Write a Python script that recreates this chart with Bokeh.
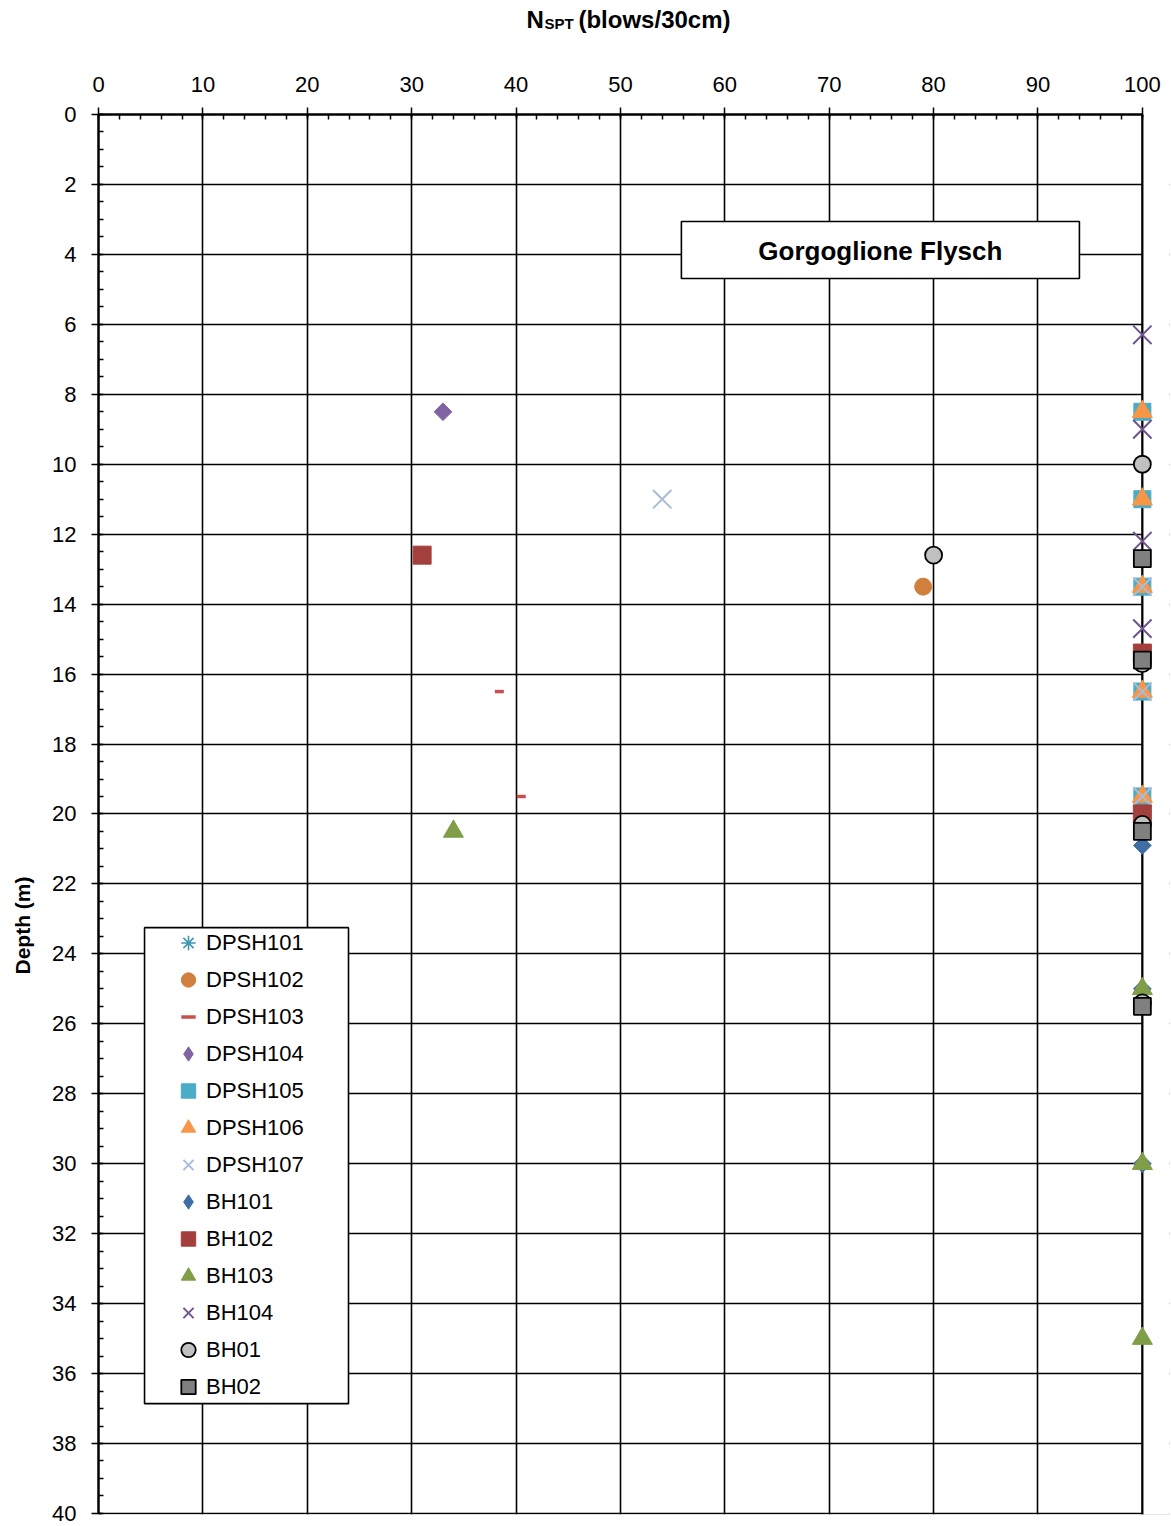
import math
import numpy as np
from bokeh.plotting import figure
from bokeh.layouts import column, row
from bokeh.models import (Range1d, SingleIntervalTicker, Legend, LegendItem, Label,
                          BoxAnnotation, Span)
from bokeh.embed import file_html
from bokeh.resources import INLINE

# ---------------- data (N_SPT, depth m) ----------------
dpsh101_n = [float("nan")]          # no visible points for DPSH101
dpsh101_d = [float("nan")]
dpsh102_n = [79]
dpsh102_d = [13.5]
dpsh103_n = [38.4, 40.5]
dpsh103_d = [16.5, 19.5]
dpsh104_n = [33]
dpsh104_d = [8.5]
dpsh105_n = [100, 100, 100, 100, 100]
dpsh105_d = [8.5, 11.0, 13.5, 16.5, 19.5]
dpsh106_n = [100, 100, 100, 100, 100]
dpsh106_d = [8.5, 11.0, 13.5, 16.5, 19.5]
dpsh107_n = [54, 100, 100, 100]
dpsh107_d = [11.0, 13.5, 16.5, 19.5]
bh101_n = [100, 100, 100]
bh101_d = [20.9, 25.0, 30.0]
bh102_n = [31, 100, 100]
bh102_d = [12.6, 15.4, 20.0]
bh103_n = [34, 100, 100, 100]
bh103_d = [20.5, 25.0, 30.0, 35.0]
bh104_n = [100, 100, 100, 100]
bh104_d = [6.3, 9.0, 12.2, 14.7]
bh01_n = [100, 80, 100, 100, 100]
bh01_d = [10.0, 12.6, 15.7, 20.3, 25.4]
bh02_n = [100, 100, 100, 100]
bh02_d = [12.7, 15.6, 20.5, 25.5]

x_ticks = [0, 10, 20, 30, 40, 50, 60, 70, 80, 90, 100]
y_ticks = [0, 2, 4, 6, 8, 10, 12, 14, 16, 18, 20, 22, 24, 26, 28, 30, 32, 34, 36, 38, 40]

FONT = "Liberation Sans"
TITLE_H = 44
LEFT_W = 44
MAIN_H = 1526 - TITLE_H

# ---------------- title strip: N_SPT (blows/30cm) ----------------
tf = figure(width=1171, height=TITLE_H, output_backend="svg", toolbar_location=None,
            x_range=Range1d(0, 102.6), y_range=Range1d(TITLE_H, 0),
            x_axis_location=None, y_axis_location=None,
            min_border_left=98, min_border_right=2, min_border_top=0, min_border_bottom=0)
tf.grid.visible = False
tf.outline_line_color = None
tf.add_layout(Label(x=41.0, y=19, text="N", text_align="left", text_baseline="alphabetic",
                    text_font=FONT, text_font_style="bold", text_font_size="24px",
                    text_color="black"))
tf.add_layout(Label(x=42.72, y=23, text="SPT", text_align="left", text_baseline="alphabetic",
                    text_font=FONT, text_font_style="bold", text_font_size="15px",
                    text_color="black"))
tf.add_layout(Label(x=45.98, y=19, text="(blows/30cm)", text_align="left",
                    text_baseline="alphabetic", text_font=FONT, text_font_style="bold",
                    text_font_size="24px", text_color="black"))

# ---------------- left strip: Depth (m) ----------------
lf = figure(width=LEFT_W, height=MAIN_H, output_backend="svg", toolbar_location=None,
            x_range=Range1d(0, LEFT_W), y_range=Range1d(40.03, 0),
            x_axis_location=None, y_axis_location=None,
            min_border_left=0, min_border_right=0, min_border_top=114 - TITLE_H,
            min_border_bottom=12)
lf.grid.visible = False
lf.outline_line_color = None
lf.add_layout(Label(x=22, y=23.19, text="Depth (m)", angle=math.pi / 2,
                    text_align="center", text_baseline="middle", text_font=FONT,
                    text_font_style="bold", text_font_size="21px", text_color="black"))

# ---------------- main chart ----------------
p = figure(width=1171 - LEFT_W, height=MAIN_H, output_backend="svg", toolbar_location=None,
           x_range=Range1d(0, 102.6), y_range=Range1d(40.03, 0),
           x_axis_location="above", min_border_left=98 - LEFT_W, min_border_right=2,
           min_border_top=114 - TITLE_H, min_border_bottom=12)
p.outline_line_color = None
p.background_fill_color = "white"
p.border_fill_color = "white"

xax = p.xaxis[0]
yax = p.yaxis[0]
xax.ticker = SingleIntervalTicker(interval=10, num_minor_ticks=5)
yax.ticker = SingleIntervalTicker(interval=2, num_minor_ticks=4)
xax.bounds = (0, 100)
yax.bounds = (0, 40)
for ax in (xax, yax):
    ax.axis_line_color = "black"
    ax.axis_line_width = 2.5
    ax.major_tick_line_color = "black"
    ax.major_tick_line_width = 1.5
    ax.minor_tick_line_color = "black"
    ax.minor_tick_line_width = 1.5
    ax.major_tick_out = 7
    ax.major_tick_in = 3
    ax.minor_tick_in = 5
    ax.minor_tick_out = 0
    ax.major_label_text_font = FONT
    ax.major_label_text_font_size = "22px"
    ax.major_label_text_color = "black"
xax.major_label_standoff = 16
yax.major_label_standoff = 15

# grid
p.xgrid.ticker = SingleIntervalTicker(interval=10)
p.ygrid.ticker = SingleIntervalTicker(interval=2)
p.grid.grid_line_color = "black"
p.grid.grid_line_width = 1.6
p.grid.grid_line_alpha = 1.0

# hide horizontal grid beyond N=100 and restore right border line
p.add_layout(BoxAnnotation(left=100, fill_color="white", fill_alpha=1.0,
                           line_color=None, level="underlay"))
p.add_layout(Span(location=100, dimension="height", line_color="black",
                  line_width=2.2, level="underlay"))

# ---------------- series ----------------
series = [
    ("DPSH101", dpsh101_n, dpsh101_d, dict(marker="asterisk", size=22, line_color="#3E97AE", fill_color=None, line_width=1.6), None),
    ("DPSH102", dpsh102_n, dpsh102_d, dict(marker="circle", size=17, fill_color="#D07F3C", line_color="#D07F3C", line_width=1), None),
    ("DPSH103", dpsh103_n, dpsh103_d, dict(marker="dash", size=9, line_color="#C9504D", line_width=3.5), None),
    ("DPSH104", dpsh104_n, dpsh104_d, dict(marker="square", angle=math.pi / 4, size=12.5, fill_color="#8064A2", line_color="#8064A2", line_width=1), "#8064A2"),
    ("DPSH105", dpsh105_n, dpsh105_d, dict(marker="square", size=17, fill_color="#4BACC6", line_color="#4BACC6", line_width=1), None),
    ("DPSH106", dpsh106_n, dpsh106_d, dict(marker="triangle", size=20, fill_color="#F79646", line_color="#F79646", line_width=1), None),
    ("DPSH107", dpsh107_n, dpsh107_d, dict(marker="x", size=26, line_color="#A9BCDB", line_width=2), None),
    ("BH101", bh101_n, bh101_d, dict(marker="square", angle=math.pi / 4, size=12.5, fill_color="#3F6EA5", line_color="#3F6EA5", line_width=1), "#3F6EA5"),
    ("BH102", bh102_n, bh102_d, dict(marker="square", size=18, fill_color="#A33F3C", line_color="#A33F3C", line_width=1), None),
    ("BH103", bh103_n, bh103_d, dict(marker="triangle", size=20, fill_color="#7F9E47", line_color="#7F9E47", line_width=1), None),
    ("BH104", bh104_n, bh104_d, dict(marker="x", size=26, line_color="#6F5490", line_width=2), None),
    ("BH01", bh01_n, bh01_d, dict(marker="circle", size=17, fill_color="#C0C0C0", line_color="black", line_width=1.8), None),
    ("BH02", bh02_n, bh02_d, dict(marker="square", size=17, fill_color="#808080", line_color="black", line_width=1.8), None),
]

items = []
for name, n, d, style, diamond_color in series:
    r = p.scatter(x=np.array(n, dtype=float), y=np.array(d, dtype=float), **style)
    if diamond_color is not None:
        # legend swatch drawn as a diamond (legend ignores marker angle)
        lr = p.scatter(x=np.array([np.nan]), y=np.array([np.nan]), marker="diamond",
                       size=1, fill_color=diamond_color, line_color=diamond_color)
        items.append(LegendItem(label=name, renderers=[lr]))
    else:
        items.append(LegendItem(label=name, renderers=[r]))

# legend frame (drawn as a box in chart coordinates) + legend entries
p.add_layout(BoxAnnotation(left=4.41, right=23.95, top=23.25, bottom=36.86,
                           fill_color="white", fill_alpha=1.0,
                           line_color="black", line_alpha=1.0, line_width=1.6))
legend = Legend(items=items, location=(72, 109), orientation="vertical",
                glyph_width=36, glyph_height=37, label_height=37, spacing=0,
                padding=0, margin=0, label_standoff=0,
                label_text_font=FONT, label_text_font_size="22px",
                label_text_color="black",
                border_line_color=None, background_fill_alpha=0.0)
p.add_layout(legend, "center")

# ---------------- annotation box ----------------
p.add_layout(BoxAnnotation(left=55.84, right=93.97, top=3.06, bottom=4.69,
                           fill_color="white", fill_alpha=1.0,
                           line_color="black", line_alpha=1.0, line_width=1.6))
p.add_layout(Label(x=74.9, y=3.89, text="Gorgoglione Flysch", text_align="center",
                   text_baseline="middle", text_font=FONT, text_font_style="bold",
                   text_font_size="26px", text_color="black"))

layout = column(tf, row(lf, p, spacing=0), spacing=0)
open("out.html", "w").write(file_html(layout, INLINE))
